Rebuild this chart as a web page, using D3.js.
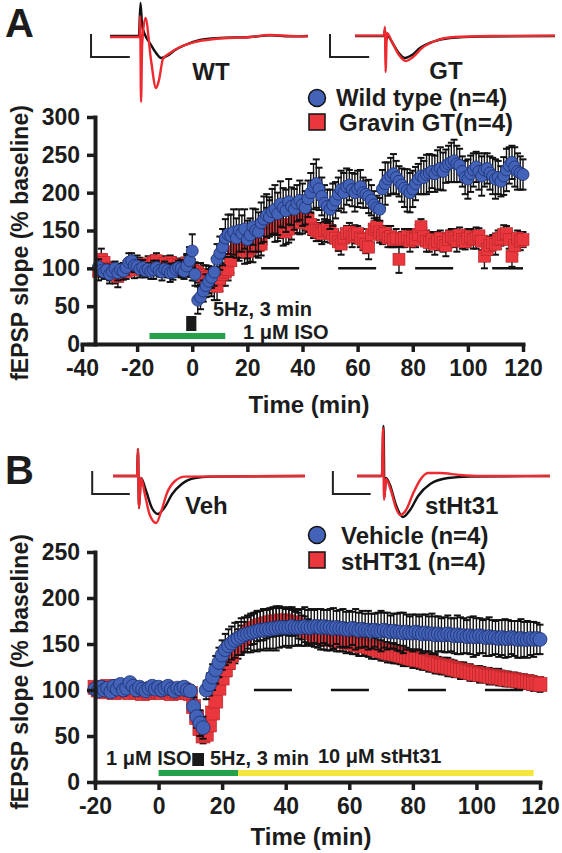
<!DOCTYPE html>
<html><head><meta charset="utf-8">
<script src="https://cdn.jsdelivr.net/npm/d3@7"></script>
<style>
html,body{margin:0;padding:0;background:#fff;}
svg{display:block;font-family:"Liberation Sans",Arial,Helvetica,sans-serif;font-weight:bold;}
</style></head><body>
<svg id="chart" width="562" height="853"></svg>
<script>
// ---------------- DATA ----------------
// Panel A : time grid (min), one bin per minute
const timeA = d3.range(-34, 121);
const wtMean = [
 102, 97, 95, 98, 92, 96, 100, 94, 98, 96,
 101, 108, 110, 104, 103, 99, 101, 97, 99, 96,
 98, 101, 97, 95, 99, 97, 94, 95, 99, 101,
 100, 96, 103, 110, 123, 92, 58, 62, 70, 77,
 83, 88, 95, 112, 120, 128, 140, 145, 143, 148,
 140, 150, 146, 152, 138, 144, 155, 150, 148, 160,
 165, 170, 168, 175, 178, 172, 185, 180, 176, 188,
 182, 178, 186, 190, 184, 180, 192, 200, 208, 212,
 205, 195, 186, 182, 178, 184, 190, 198, 204, 200,
 208, 210, 204, 200, 205, 208, 200, 198, 195, 190,
 184, 180, 178, 205, 212, 218, 222, 225, 220, 215,
 210, 206, 203, 200, 205, 212, 218, 222, 220, 224,
 226, 228, 225, 230, 232, 228, 235, 238, 240, 242,
 238, 236, 228, 220, 218, 225, 230, 234, 228, 222,
 230, 232, 226, 222, 218, 220, 215, 222, 230, 236,
 240, 234, 228, 226, 224];
const wtSem = [
 10, 8, 9, 7, 12, 8, 9, 10, 8, 11,
 9, 12, 10, 9, 8, 11, 10, 9, 8, 10,
 12, 9, 8, 11, 10, 9, 12, 10, 8, 9,
 11, 10, 14, 18, 22, 15, 18, 16, 14, 15,
 16, 14, 18, 20, 22, 24, 25, 26, 28, 30,
 26, 28, 24, 26, 25, 22, 24, 28, 26, 27,
 30, 28, 26, 30, 32, 28, 30, 26, 28, 30,
 25, 27, 24, 26, 28, 22, 24, 26, 30, 32,
 28, 25, 24, 22, 26, 28, 24, 22, 25, 26,
 24, 20, 22, 25, 24, 22, 20, 18, 22, 20,
 18, 16, 15, 25, 28, 22, 24, 26, 22, 20,
 22, 25, 28, 26, 24, 22, 20, 24, 22, 26,
 25, 22, 24, 26, 28, 25, 22, 24, 26, 28,
 24, 22, 20, 22, 26, 24, 22, 20, 24, 26,
 22, 20, 22, 24, 26, 22, 20, 25, 28, 24,
 22, 26, 24, 22, 20];
const gtMean = [
 96, 112, 108, 100, 95, 98, 92, 89, 95, 98,
 96, 100, 102, 98, 105, 104, 100, 102, 106, 103,
 108, 110, 104, 100, 106, 102, 108, 105, 100, 103,
 97, 104, 107, 100, 98, 96, 94, 92, 90, 88,
 85, 80, 78, 76, 86, 92, 95, 98, 110, 122,
 132, 128, 130, 124, 122, 126, 128, 134, 130, 132,
 150, 160, 168, 162, 155, 152, 158, 150, 148, 152,
 158, 162, 165, 160, 166, 168, 164, 158, 152, 150,
 148, 146, 150, 152, 148, 145, 140, 135, 132, 140,
 146, 148, 142, 145, 146, 140, 138, 132, 128, 145,
 152, 155, 148, 144, 146, 140, 142, 138, 140, 112,
 138, 140, 142, 136, 140, 138, 145, 155, 142, 136,
 134, 138, 132, 136, 140, 134, 130, 138, 142, 140,
 136, 144, 138, 135, 140, 142, 138, 140, 143, 136,
 116, 125, 130, 134, 132, 138, 140, 145, 146, 138,
 116, 130, 140, 136, 138];
const gtSem = [
 12, 14, 10, 9, 11, 10, 12, 14, 10, 9,
 10, 8, 9, 11, 12, 10, 9, 8, 10, 11,
 9, 10, 8, 11, 10, 12, 9, 10, 11, 10,
 9, 10, 12, 11, 14, 12, 13, 15, 14, 16,
 18, 17, 20, 18, 16, 15, 18, 14, 16, 18,
 20, 18, 16, 18, 15, 17, 20, 18, 16, 15,
 18, 20, 22, 18, 20, 16, 18, 20, 16, 18,
 20, 16, 18, 15, 20, 18, 16, 14, 12, 14,
 12, 14, 15, 12, 14, 12, 10, 12, 14, 12,
 10, 12, 14, 12, 10, 12, 14, 12, 16, 12,
 10, 12, 14, 12, 10, 12, 14, 10, 12, 18,
 10, 12, 10, 14, 12, 10, 12, 10, 12, 14,
 12, 10, 14, 12, 10, 12, 14, 12, 10, 12,
 14, 10, 12, 10, 12, 10, 12, 14, 10, 12,
 16, 14, 12, 10, 14, 12, 10, 12, 10, 12,
 14, 12, 10, 12, 10];

// Panel B : time grid (min)
const timeB = d3.range(-20, 121);
const vehMean = [
 101, 99, 103, 100, 102, 98, 104, 101, 106, 100,
 102, 108, 104, 100, 103, 101, 99, 102, 104, 101,
 103, 100, 102, 104, 101, 99, 102, 101, 103, 100,
 99, 82, 71, 64, 59, 100, 106, 114, 122, 130,
 138, 144, 148, 151, 154, 156, 158, 160, 161, 162,
 163, 164, 165, 165, 166, 166, 167, 167, 168, 168,
 168, 168, 169, 168, 168, 168, 169, 168, 168, 169,
 169, 168, 169, 168, 168, 167, 168, 167, 167, 166,
 166, 167, 166, 165, 166, 165, 165, 164, 165, 164,
 164, 165, 164, 163, 164, 163, 163, 162, 163, 162,
 162, 163, 162, 161, 162, 161, 161, 160, 161, 160,
 160, 161, 160, 159, 160, 159, 159, 158, 159, 158,
 158, 159, 158, 157, 158, 157, 157, 156, 157, 156,
 156, 157, 156, 155, 156, 155, 155, 156, 155, 156,
 155];
const vehSem = [
 5, 4, 6, 5, 4, 5, 6, 4, 5, 6,
 5, 4, 5, 6, 4, 5, 4, 6, 5, 4,
 5, 6, 4, 5, 6, 4, 5, 4, 5, 6,
 6, 10, 12, 14, 12, 10, 12, 14, 15, 16,
 16, 17, 18, 18, 19, 18, 20, 19, 20, 21,
 20, 22, 21, 22, 21, 23, 22, 24, 22, 21,
 20, 22, 21, 20, 19, 20, 21, 19, 20, 18,
 19, 20, 18, 19, 20, 22, 18, 20, 21, 19,
 20, 18, 22, 19, 20, 18, 21, 19, 18, 20,
 22, 19, 20, 18, 19, 20, 21, 22, 19, 18,
 20, 19, 18, 21, 20, 19, 22, 20, 19, 18,
 19, 20, 18, 19, 21, 20, 19, 18, 20, 22,
 20, 19, 18, 20, 21, 19, 18, 20, 19, 21,
 20, 18, 19, 20, 21, 19, 20, 18, 19, 17,
 16];
const sthMean = [
 103, 100, 98, 101, 104, 99, 97, 100, 102, 98,
 99, 97, 101, 98, 100, 96, 99, 97, 100, 98,
 99, 97, 100, 98, 96, 99, 97, 98, 100, 97,
 96, 82, 70, 58, 50, 52, 62, 75, 88, 102,
 113, 122, 130, 138, 145, 150, 155, 158, 162, 165,
 167, 169, 170, 171, 172, 173, 174, 174, 175, 175,
 175, 174, 173, 172, 170, 168, 166, 164, 162, 160,
 158, 157, 156, 156, 155, 155, 154, 154, 153, 152,
 152, 151, 150, 149, 148, 148, 147, 146, 145, 144,
 143, 142, 141, 140, 140, 139, 138, 137, 136, 135,
 134, 133, 133, 132, 131, 130, 129, 128, 127, 126,
 126, 125, 124, 123, 122, 121, 121, 120, 119, 118,
 118, 117, 117, 116, 115, 115, 114, 114, 113, 112,
 112, 111, 111, 110, 110, 109, 109, 108, 107, 107,
 106];
const sthSem = [
 5, 6, 4, 5, 6, 5, 4, 6, 5, 4,
 6, 5, 4, 5, 6, 4, 5, 6, 4, 5,
 5, 4, 6, 5, 4, 5, 6, 4, 5, 5,
 6, 8, 10, 10, 8, 8, 10, 12, 12, 13,
 14, 14, 15, 15, 16, 16, 15, 16, 17, 16,
 17, 16, 16, 17, 16, 15, 16, 15, 16, 15,
 14, 15, 14, 13, 14, 13, 14, 13, 12, 13,
 12, 13, 12, 13, 12, 11, 12, 12, 11, 12,
 11, 12, 11, 12, 11, 10, 11, 12, 11, 10,
 11, 10, 11, 10, 11, 10, 10, 11, 10, 9,
 10, 9, 10, 10, 9, 10, 9, 10, 9, 9,
 9, 10, 9, 9, 8, 9, 9, 8, 9, 8,
 8, 9, 8, 8, 9, 8, 8, 9, 8, 8,
 8, 7, 8, 8, 7, 8, 7, 8, 8, 7,
 8];

// ticks
const xTicksA = [-40, -20, 0, 20, 40, 60, 80, 100, 120];
const yTicksA = [0, 50, 100, 150, 200, 250, 300];
const xTicksB = [-20, 0, 20, 40, 60, 80, 100, 120];
const yTicksB = [0, 50, 100, 150, 200, 250];

// protocol events (min)
const isoA = [-15.5, 12];
const stimA = [-2.2, 1.5];
const dashA = [25, 120];
const isoB = [0, 25];
const sthtB = [25, 118];
const stimB = [10.6, 14.3];
const dashB = [30, 120];

// example fEPSP traces : [ms, mV]
const wtBlack = [[0,0],[3.5,0],[3.7,1.65],[3.9,0.5],[4.2,0.1],[4.9,-0.4],[5.5,-0.8],[6.2,-1.1],[6.9,-1.0],[7.9,-0.7],[9.1,-0.45],[10.9,-0.2],[13.3,-0.1],[17,-0.05],[19.4,0.03],[21.8,-0.02],[24,0]];
const wtRed = [[0,-0.05],[3.58,-0.05],[3.66,1.0],[3.76,-3.3],[3.9,-0.4],[4.3,0.9],[4.97,-1.2],[5.58,-2.6],[5.94,-2.2],[6.42,-1.15],[7.27,-0.85],[8.48,-0.55],[10.3,-0.3],[12.7,-0.15],[17,-0.05],[19.4,0.05],[21.8,0],[24,-0.02]];
const gtBlack = [[0,0],[3.48,0],[3.6,0.3],[3.72,-0.2],[3.96,0],[4.44,-0.3],[5.16,-0.8],[6.0,-1.1],[6.84,-0.95],[7.8,-0.6],[9.24,-0.3],[11.4,-0.1],[15,-0.03],[24,0]];
const gtRed = [[0,0.02],[3.48,0.02],[3.6,0.45],[3.66,-1.8],[3.84,0.15],[4.44,-0.3],[5.28,-0.95],[6.12,-1.25],[6.96,-1.05],[8.04,-0.6],[9.6,-0.25],[12,-0.05],[16.2,0],[24,0.02]];
const vehBlack = [[0,0],[3,0],[3.12,1.35],[3.25,-1.6],[3.5,-0.1],[4.1,-0.7],[4.87,-1.6],[5.6,-1.9],[6.4,-1.6],[7.4,-0.9],[8.6,-0.4],[10.25,-0.1],[12.1,-0.03],[24,0]];
const vehRed = [[0,0],[3,0],[3.12,1.35],[3.25,-1.6],[3.5,-0.1],[4.0,-0.95],[4.6,-1.95],[5.4,-2.35],[6.0,-1.8],[6.75,-0.85],[7.75,-0.25],[9,-0.03],[24,0]];
const sthBlack = [[0,0],[3.1,0],[3.3,2.5],[3.42,-1.05],[3.6,-0.1],[4.1,-0.45],[4.85,-1.45],[5.7,-2.05],[6.6,-1.7],[7.6,-1.0],[9.1,-0.4],[11.3,-0.1],[14,-0.03],[24,0]];
const sthRed = [[0,0],[3.1,0],[3.24,2.4],[3.36,-1.2],[3.6,-0.15],[4.2,-0.7],[4.85,-1.6],[5.35,-1.95],[6.1,-1.7],[6.95,-0.9],[7.85,-0.2],[8.8,0.15],[10.3,0.15],[12.8,0.05],[15.3,0],[24,0]];
const scaleBarMs = 4.7, scaleBarMv = 1.15;

// ---------------- STYLE ----------------
const BLUE = "#4263b8", BLUE_S = "#1e2f6e", RED = "#e9373d", RED_S = "#b0252a";
const GREEN = "#23a24b", YELLOW = "#f4e63c", INK = "#1c1c1c";

const svg = d3.select("#chart");

function drawAxes(x, y, xTicks, yTicks, yAxisX, xAxisY) {
  const gx = svg.append("g").attr("transform", `translate(0,${xAxisY})`)
    .call(d3.axisBottom(x).tickValues(xTicks).tickSize(8).tickSizeOuter(0).tickPadding(8).tickFormat(d => String(d)));
  const gy = svg.append("g").attr("transform", `translate(${yAxisX},0)`)
    .call(d3.axisLeft(y).tickValues(yTicks).tickSize(8).tickSizeOuter(0).tickPadding(7).tickFormat(d => String(d)));
  [gx, gy].forEach(g => {
    g.select(".domain").attr("stroke", INK).attr("stroke-width", 4).attr("stroke-linecap", "square");
    g.selectAll(".tick line").attr("stroke", INK).attr("stroke-width", 3.5);
    g.selectAll(".tick text").attr("fill", INK).style("font-size", "23px").style("font-weight", "bold")
      .style("font-family", '"Liberation Sans",Arial,sans-serif');
  });
}

function drawSeries(x, y, times, mean, sem, kind, size) {
  const g = svg.append("g");
  const pts = times.map((t, i) => ({ t, m: mean[i], s: sem[i] })).filter(d => d.m != null);
  const eb = g.append("g").attr("stroke", "#111").attr("stroke-width", 1.4);
  pts.forEach(d => {
    const x0 = x(d.t), yl = y(d.m - d.s), yh = y(d.m + d.s);
    eb.append("line").attr("x1", x0).attr("x2", x0).attr("y1", yl).attr("y2", yh);
    eb.append("line").attr("x1", x0 - 3.5).attr("x2", x0 + 3.5).attr("y1", yh).attr("y2", yh).attr("stroke-width", 2);
    eb.append("line").attr("x1", x0 - 3.5).attr("x2", x0 + 3.5).attr("y1", yl).attr("y2", yl).attr("stroke-width", 2);
  });
  if (kind === "circle") {
    g.selectAll("circle.m").data(pts).join("circle").attr("class", "m")
      .attr("cx", d => x(d.t)).attr("cy", d => y(d.m)).attr("r", size / 2)
      .attr("fill", BLUE).attr("stroke", BLUE_S).attr("stroke-width", 0.8);
  } else {
    g.selectAll("rect.m").data(pts).join("rect").attr("class", "m")
      .attr("x", d => x(d.t) - size / 2).attr("y", d => y(d.m) - size / 2).attr("width", size).attr("height", size)
      .attr("fill", RED).attr("stroke", RED_S).attr("stroke-width", 0.6);
  }
}

function drawTrace(data, xr, base, color, width) {
  const x = d3.scaleLinear().domain([0, 24]).range(xr);
  const y = d3.scaleLinear().domain([0, -1]).range([base, base + 20]);
  svg.append("path").datum(data)
    .attr("d", d3.line().x(d => x(d[0])).y(d => y(d[1])).curve(d3.curveMonotoneX))
    .attr("fill", "none").attr("stroke", color).attr("stroke-width", width).attr("stroke-linejoin", "round");
  return { x, y };
}
function drawScaleBar(sc, msStart, mvTop) {
  const p = d3.path();
  p.moveTo(sc.x(msStart), sc.y(mvTop));
  p.lineTo(sc.x(msStart), sc.y(mvTop - scaleBarMv));
  p.lineTo(sc.x(msStart + scaleBarMs), sc.y(mvTop - scaleBarMv));
  svg.append("path").attr("d", p.toString()).attr("fill", "none").attr("stroke", "#222").attr("stroke-width", 2);
}
function txt(s, x, y, size, anchor) {
  return svg.append("text").attr("x", x).attr("y", y).attr("fill", INK)
    .attr("text-anchor", anchor || "start").style("font-size", size + "px").text(s);
}

// ================= PANEL A =================
const xA = d3.scaleLinear().domain([-40, 120]).range([82, 523]);
const yA = d3.scaleLinear().domain([0, 300]).range([344, 117]);

txt("A", 5, 37, 40);
// traces
let sc = drawTrace(wtBlack, [110, 308], 36, "#111", 2.4);
drawTrace(wtRed, [110, 308], 36, "#ee2a30", 2.4);
drawScaleBar(sc, -2.3, 0.1);
txt("WT", 211, 80, 24, "middle");
sc = drawTrace(gtBlack, [355, 555], 36, "#111", 2.4);
drawTrace(gtRed, [355, 555], 36, "#ee2a30", 2.4);
drawScaleBar(sc, -3.0, 0.1);
txt("GT", 446, 79, 24, "middle");

// legend A
svg.append("circle").attr("cx", 317).attr("cy", 98).attr("r", 8.5).attr("fill", BLUE).attr("stroke", "#111").attr("stroke-width", 1.5);
txt("Wild type (n=4)", 336, 106, 24);
svg.append("rect").attr("x", 309).attr("y", 114).attr("width", 16).attr("height", 16).attr("fill", RED).attr("stroke", "#111").attr("stroke-width", 1.5);
txt("Gravin GT(n=4)", 339, 131, 24);

// baseline dashes
svg.append("line").attr("x1", xA(dashA[0])).attr("x2", xA(dashA[1])).attr("y1", yA(100)).attr("y2", yA(100))
  .attr("stroke", "#111").attr("stroke-width", 2.5).attr("stroke-dasharray", "38,39");

drawSeries(xA, yA, timeA, gtMean, gtSem, "square", 12);
drawSeries(xA, yA, timeA, wtMean, wtSem, "circle", 12);

// protocol annotations A
svg.append("rect").attr("x", xA(stimA[0])).attr("width", xA(stimA[1]) - xA(stimA[0]))
  .attr("y", 316).attr("height", 15).attr("fill", "#1a1a1a");
svg.append("rect").attr("x", xA(isoA[0])).attr("width", xA(isoA[1]) - xA(isoA[0]))
  .attr("y", 333).attr("height", 6).attr("fill", GREEN);
txt("5Hz, 3 min", 213, 316, 20);
txt("1 μM ISO", 243, 339, 20);

drawAxes(xA, yA, xTicksA, yTicksA, 95, 344);
svg.append("text").attr("transform", "translate(28,243) rotate(-90)").attr("text-anchor", "middle")
  .attr("fill", INK).style("font-size", "23px").text("fEPSP slope (% baseline)");
txt("Time (min)", 309, 413, 24, "middle");

// ================= PANEL B =================
const xB = d3.scaleLinear().domain([-20, 120]).range([95, 540]);
const yB = d3.scaleLinear().domain([0, 250]).range([782, 552]);

txt("B", 5, 484, 40);
sc = drawTrace(vehBlack, [113, 305], 476, "#111", 2.4);
drawTrace(vehRed, [113, 305], 476, "#ee2a30", 2.4);
drawScaleBar(sc, -2.6, 0.25);
txt("Veh", 185, 514, 24);
sc = drawTrace(sthBlack, [357, 550], 476, "#111", 2.4);
drawTrace(sthRed, [357, 550], 476, "#ee2a30", 2.4);
drawScaleBar(sc, -3.0, 0.25);
txt("stHt31", 425, 514, 24);

// legend B
svg.append("circle").attr("cx", 317).attr("cy", 535).attr("r", 8.5).attr("fill", BLUE).attr("stroke", "#111").attr("stroke-width", 1.5);
txt("Vehicle (n=4)", 341, 544, 24);
svg.append("rect").attr("x", 309).attr("y", 552).attr("width", 16).attr("height", 16).attr("fill", RED).attr("stroke", "#111").attr("stroke-width", 1.5);
txt("stHT31 (n=4)", 341, 570, 24);

svg.append("line").attr("x1", xB(dashB[0])).attr("x2", xB(dashB[1])).attr("y1", yB(100)).attr("y2", yB(100))
  .attr("stroke", "#111").attr("stroke-width", 2.5).attr("stroke-dasharray", "38,39");

drawSeries(xB, yB, timeB, sthMean, sthSem, "square", 14);
drawSeries(xB, yB, timeB, vehMean, vehSem, "circle", 14);

svg.append("rect").attr("x", xB(isoB[0])).attr("width", xB(isoB[1]) - xB(isoB[0]))
  .attr("y", 770).attr("height", 6).attr("fill", GREEN);
svg.append("rect").attr("x", xB(sthtB[0])).attr("width", xB(sthtB[1]) - xB(sthtB[0]))
  .attr("y", 770).attr("height", 6).attr("fill", YELLOW);
svg.append("rect").attr("x", xB(stimB[0])).attr("width", xB(stimB[1]) - xB(stimB[0]))
  .attr("y", 753).attr("height", 13).attr("fill", "#1a1a1a");
txt("1 μM ISO", 106, 765, 20);
txt("5Hz, 3 min", 210, 765, 20);
txt("10 μM stHt31", 318, 763, 20);

drawAxes(xB, yB, xTicksB, yTicksB, 95, 782);
svg.append("text").attr("transform", "translate(28,672) rotate(-90)").attr("text-anchor", "middle")
  .attr("fill", INK).style("font-size", "23px").text("fEPSP slope (% baseline)");
txt("Time (min)", 311, 845, 24, "middle");
</script></body></html>
